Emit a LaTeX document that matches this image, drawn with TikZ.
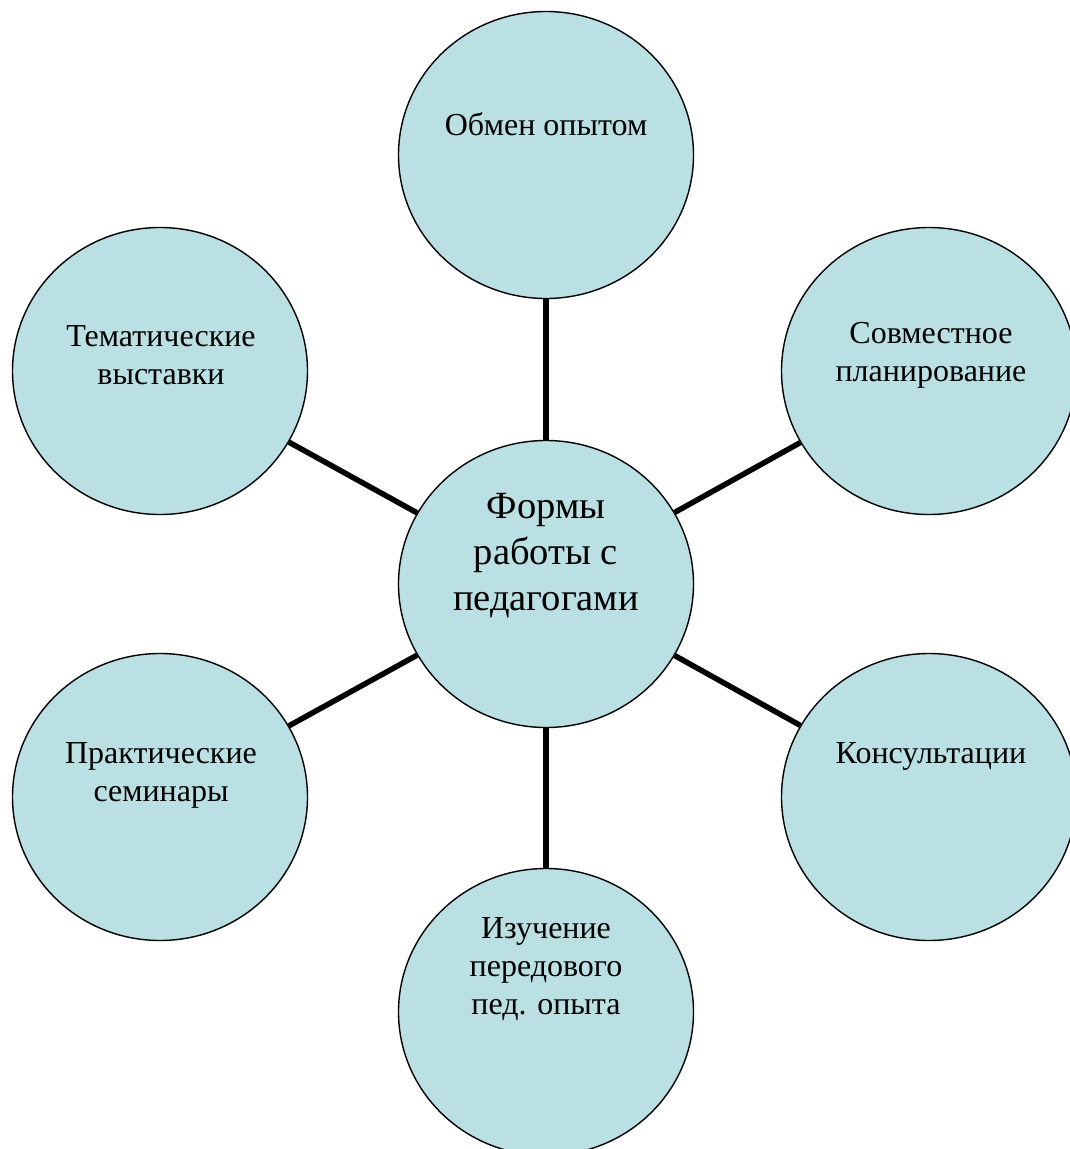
\documentclass[tikz,border=0pt]{standalone}
\usepackage{fontspec}
\setmainfont{Liberation Serif}
\usetikzlibrary{shapes.geometric}
\definecolor{bubble}{HTML}{BAE0E3}
\begin{document}
\begin{tikzpicture}[x=1pt,y=-1pt,
  bub/.style={ellipse,draw=black,line width=1.4pt,fill=bubble,minimum width=295pt,minimum height=287pt,inner sep=0pt},
  lbl/.style={align=center,font=\fontsize{32}{38}\selectfont,inner sep=0pt},
  biglbl/.style={align=center,font=\fontsize{38.5}{46}\selectfont,inner sep=0pt},
  link/.style={line width=5.5pt,black}]
\useasboundingbox[fill=white] (0,0) rectangle (1070,1149);
\node[bub] (c) at (546,584) {};
\node[bub] (t) at (546,155) {};
\node[bub] (tl) at (160,371) {};
\node[bub] (tr) at (929,371) {};
\node[bub] (bl) at (160,797) {};
\node[bub] (br) at (929,797) {};
\node[bub] (b) at (546,1012) {};
\draw[link] (c) -- (t);
\draw[link] (c) -- (tl);
\draw[link] (c) -- (tr);
\draw[link] (c) -- (bl);
\draw[link] (c) -- (br);
\draw[link] (c) -- (b);
\node[biglbl] (ct) at (546,556) {Формы\\работы с\\педагогами};
\node[lbl] (tt) at (546,124) {Обмен опытом};
\node[lbl] (tlt) at (161,355) {Тематические\\выставки};
\node[lbl] (trt) at (931,355) {Совместное\\планирование};
\node[lbl] (blt) at (161,775) {Практические\\семинары};
\node[lbl] (brt) at (931,756) {Консультации};
\node[lbl] (bt) at (546,969) {Изучение\\передового\\пед. опыта};
\end{tikzpicture}
\end{document}
